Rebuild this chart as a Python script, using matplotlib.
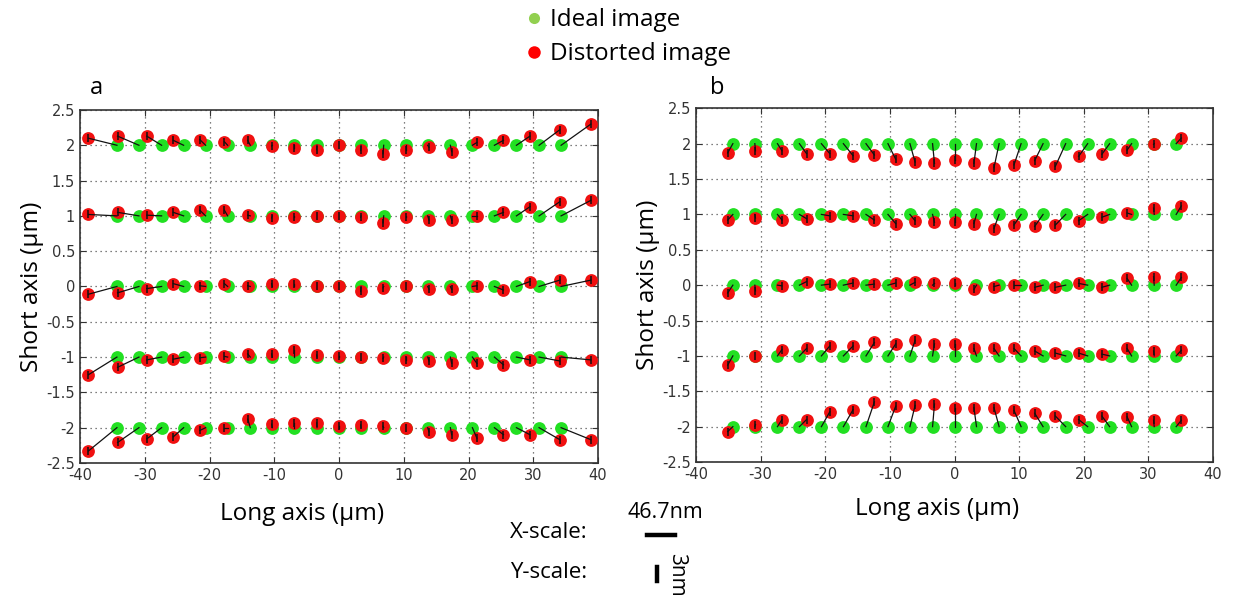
import matplotlib
matplotlib.use("Agg")
import matplotlib.pyplot as plt
from matplotlib.lines import Line2D

plt.rcParams['axes.unicode_minus'] = False

# ideal grid (same for both panels)
rows = [2, 1, 0, -1, -2]
ideal_x = [-34.3, -30.9, -27.4, -24.0, -20.6, -17.2, -13.7, -10.3, -6.9, -3.4, 0.0,
           3.4, 6.9, 10.3, 13.7, 17.2, 20.6, 24.0, 27.4, 30.9, 34.3]

# panel a: distorted positions
a_dist_x = [-38.7, -34.2, -29.7, -25.6, -21.5, -17.7, -14.1, -10.4, -6.9, -3.45, 0.0,
            3.35, 6.8, 10.3, 13.9, 17.4, 21.3, 25.4, 29.5, 34.1, 38.9]
a_row_2 = [2.10, 2.13, 2.13, 2.07, 2.08, 2.05, 2.07, 1.99, 1.96, 1.94, 2.0,
           1.93, 1.88, 1.93, 1.97, 1.91, 2.04, 2.07, 2.13, 2.22, 2.30]
a_row_1 = [1.02, 1.05, 1.01, 1.05, 1.08, 1.08, 1.01, 0.97, 0.99, 1.0, 1.0,
           0.98, 0.90, 0.98, 0.94, 0.94, 1.0, 1.05, 1.13, 1.20, 1.22]
a_row_0 = [-0.11, -0.09, -0.03, 0.04, 0.01, 0.04, 0.01, 0.04, 0.04, 0.0, 0.0,
           -0.07, -0.02, 0.0, -0.04, -0.04, 0.01, -0.05, 0.07, 0.09, 0.09]
a_row_m1 = [-1.25, -1.145, -1.04, -1.03, -1.01, -0.99, -0.955, -0.955, -0.90, -0.97, -0.985,
            -1.0, -1.02, -1.04, -1.055, -1.09, -1.09, -1.11, -1.04, -1.055, -1.04]
a_row_m2 = [-2.33, -2.21, -2.16, -2.13, -2.04, -2.0, -1.88, -1.95, -1.93, -1.93, -1.98,
            -1.96, -1.98, -2.01, -2.06, -2.10, -2.15, -2.10, -2.10, -2.17, -2.17]

# panel b: distorted positions
b_dist_x = [-35.1, -30.8, -26.7, -22.9, -19.3, -15.7, -12.4, -9.1, -6.1, -3.1, 0.0,
            3.0, 6.1, 9.2, 12.4, 15.6, 19.2, 22.8, 26.7, 30.8, 35.1]
b_row_2 = [1.87, 1.90, 1.90, 1.86, 1.86, 1.83, 1.84, 1.78, 1.74, 1.72, 1.77,
           1.72, 1.66, 1.70, 1.76, 1.68, 1.82, 1.85, 1.91, 1.99, 2.08]
b_row_1 = [0.92, 0.95, 0.92, 0.94, 0.98, 0.98, 0.92, 0.87, 0.91, 0.89, 0.89,
           0.87, 0.80, 0.85, 0.83, 0.85, 0.91, 0.96, 1.02, 1.09, 1.12]
b_row_0 = [-0.11, -0.08, -0.01, 0.05, 0.015, 0.03, 0.015, 0.03, 0.04, 0.025, 0.025,
           -0.06, -0.02, 0.0, -0.03, -0.03, 0.025, -0.03, 0.095, 0.12, 0.11]
b_row_m1 = [-1.13, -1.0, -0.91, -0.895, -0.86, -0.86, -0.81, -0.83, -0.78, -0.83, -0.83,
            -0.895, -0.895, -0.895, -0.93, -0.96, -0.96, -0.975, -0.895, -0.93, -0.92]
b_row_m2 = [-2.07, -1.97, -1.90, -1.90, -1.79, -1.76, -1.65, -1.71, -1.70, -1.68, -1.73,
            -1.73, -1.73, -1.77, -1.81, -1.85, -1.90, -1.85, -1.86, -1.91, -1.91]

GREEN = '#22e022'
RED = '#f01010'
LABEL_FONT = ['Open Sans', 'DejaVu Sans']


def draw_panel(ax, dist_x, dist_rows):
    for row in rows:
        ax.plot(ideal_x, [row] * len(ideal_x), 'o', color=GREEN, ms=9.2, mec='none', zorder=3)
    for row, ys in zip(rows, dist_rows):
        ax.plot(dist_x, ys, 'o', color=RED, ms=9.2, mec='none', zorder=4)
        for x0, x1, y1 in zip(ideal_x, dist_x, ys):
            ax.plot([x0, x1], [row, y1], color='#111111', lw=0.9, zorder=5)
        ax.plot(dist_x, ys, '|', color='#111111', ms=6, mew=1.1, zorder=6)

    ax.set_xlim(-40, 40)
    ax.set_ylim(-2.5, 2.5)
    ax.set_xticks(range(-40, 41, 10))
    ax.set_yticks([-2.5, -2, -1.5, -1, -0.5, 0, 0.5, 1, 1.5, 2, 2.5])
    ax.set_yticklabels(['%g' % v for v in ax.get_yticks()])
    ax.grid(True, linestyle=(0, (1, 3)), color='#555555', lw=0.9)
    ax.tick_params(direction='in', top=True, right=True, length=4, width=0.8,
                   labelsize=10.5, colors='#333333', labelcolor='#333333')
    for sp in ax.spines.values():
        sp.set_color('#333333')
        sp.set_linewidth(1.2)
    ax.set_ylabel('Short axis (µm)', fontsize=17.5, family=LABEL_FONT, color='black', labelpad=2)


fig = plt.figure(figsize=(12.33, 5.98), dpi=100)
ax_a = fig.add_axes([0.0649, 0.2258, 0.4201, 0.5903])
ax_b = fig.add_axes([0.5645, 0.2274, 0.4193, 0.5915])

draw_panel(ax_a, a_dist_x, [a_row_2, a_row_1, a_row_0, a_row_m1, a_row_m2])
draw_panel(ax_b, b_dist_x, [b_row_2, b_row_1, b_row_0, b_row_m1, b_row_m2])

# x labels sit a little left of the axes centre
ax_a.set_xlabel('Long axis (µm)', fontsize=17.5, family=LABEL_FONT, color='black',
                labelpad=14, x=0.4286)
ax_b.set_xlabel('Long axis (µm)', fontsize=17.5, family=LABEL_FONT, color='black',
                labelpad=11, x=0.466)

fig.text(96 / 1233, 1 - 88 / 598, 'a', fontsize=17, family=LABEL_FONT, ha='center', va='center')
fig.text(717 / 1233, 1 - 88 / 598, 'b', fontsize=17, family=LABEL_FONT, ha='center', va='center')

# legend
handles = [Line2D([], [], ls='none', marker='o', color='#92d050', ms=8, mec='none'),
           Line2D([], [], ls='none', marker='o', color='#ff0000', ms=9, mec='none')]
fig.legend(handles, ['Ideal image', 'Distorted image'], loc='upper left',
           bbox_to_anchor=(505 / 1233, 1 + 9 / 598), frameon=False,
           prop={'family': LABEL_FONT, 'size': 17.5}, handletextpad=0.15,
           labelspacing=0.42, handlelength=1.0, borderpad=0.2)

# scale bars
fig.text(510 / 1233, 1 - 533 / 598, 'X-scale:', fontsize=16, family=LABEL_FONT, va='center')
fig.text(510 / 1233, 1 - 573 / 598, 'Y-scale:', fontsize=16, family=LABEL_FONT, va='center')
fig.text(665 / 1233, 1 - 513 / 598, '46.7nm', fontsize=15.5, family=LABEL_FONT, ha='center', va='center')
fig.add_artist(Line2D([647 / 1233, 675 / 1233], [1 - 535 / 598, 1 - 535 / 598],
                      color='black', lw=3.2, transform=fig.transFigure))
fig.add_artist(Line2D([657 / 1233, 657 / 1233], [1 - 567 / 598, 1 - 581 / 598],
                      color='black', lw=3.2, transform=fig.transFigure))
fig.text(677 / 1233, 1 - 575 / 598, '3nm', fontsize=15, family=LABEL_FONT,
         rotation=-90, ha='center', va='center')

fig.savefig('out.png', dpi=100)
